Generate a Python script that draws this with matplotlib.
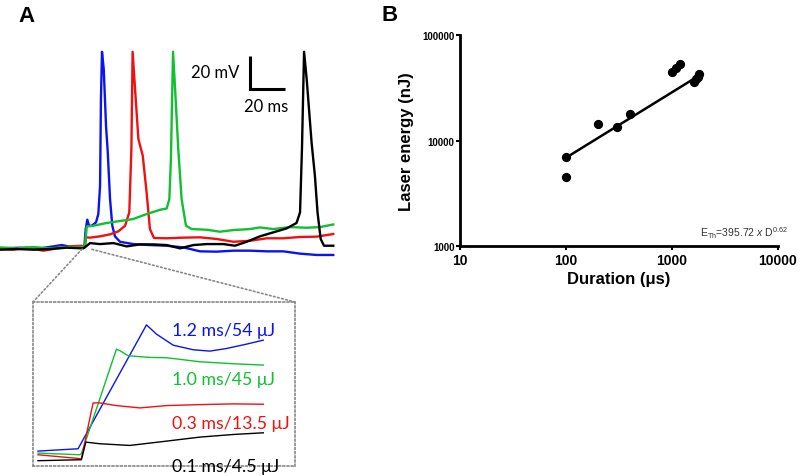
import numpy as np
import matplotlib

matplotlib.use("Agg")
import matplotlib.pyplot as plt
from matplotlib.patches import ConnectionPatch

plt.rcParams["mathtext.fontset"] = "custom"
plt.rcParams["mathtext.rm"] = "Liberation Sans"
plt.rcParams["mathtext.it"] = "Liberation Sans:italic"

# ---- panel A: membrane potential traces (time in ms, voltage in mV rel. baseline)
blue_t = [-48.6, -37.1, -25.7, -18.1, -13.3, -9.5, -4.8, -0.4, 0.4, 1.3, 2.3, 3.8, 6.3, 7.6, 8.6, 9.1,
          9.7, 10.7, 12.0, 13.0, 14.3, 15.6, 17.1, 20.0, 27.6, 37.1, 46.7, 56.2, 65.7, 75.2, 84.8,
          94.3, 103.8, 113.3, 122.9, 132.4, 141.9]
blue_v = [0, 0.4, 0, 1.2, 2.0, 1.2, 0.6, 0.6, 11.7, 17.4, 13.7, 13.7, 15.8, 20.8, 38.0, 90.5,
          119.2, 108.7, 74.3, 58.2, 29.9, 13.7, 7.3, 4.0, 2.6, 2.0, 1.6, 0.6, -1.8, -2.0, -1.4,
          -1.4, -1.8, -1.8, -3.2, -4.0, -4.0]

red_t = [-48.6, -41.0, -33.3, -23.8, -16.2, -8.6, -1.9, -0.2, 0.6, 2.9, 8.6, 14.3, 19.0, 22.9, 25.3,
         26.5, 27.2, 28.6, 30.5, 33.0, 35.2, 37.1, 39.4, 46.7, 56.2, 65.7, 75.2, 84.8, 94.3, 103.8,
         113.3, 122.9, 132.4, 141.9]
red_v = [-0.4, -0.8, 0.4, -1.4, 0, 1.2, 1.6, 0.6, 6.7, 6.5, 7.3, 8.5, 10.3, 13.7, 21.8,
         60.2, 119.2, 96.6, 66.3, 56.2, 33.9, 11.7, 6.3, 6.1, 6.5, 6.7, 5.7, 4.0, 4.6, 6.1,
         6.1, 6.9, 7.1, 8.7]

green_t = [-48.6, -39.1, -29.5, -20.0, -10.5, -2.9, 0, 1.0, 4.8, 12.4, 20.0, 27.6, 35.2, 42.9, 46.7,
           48.2, 49.1, 50.3, 51.6, 53.3, 55.2, 57.7, 61.0, 69.5, 77.1, 84.8, 94.3, 99.9, 107.6,
           117.2, 126.7, 134.3, 141.9]
green_v = [0.6, 0, 0.8, 0, 0.8, 0.8, 1.2, 13.3, 13.7, 15.4, 16.6, 17.8, 20.8, 23.4, 24.2,
           29.9, 54.1, 119.2, 94.5, 60.2, 29.9, 13.7, 11.7, 11.3, 10.1, 11.1, 11.7, 12.7, 11.7,
           12.9, 12.5, 12.9, 14.5]

black_t = [-48.6, -39.1, -29.5, -20.0, -10.5, -1.0, 0.6, 2.9, 8.6, 16.2, 23.8, 31.4, 39.1, 46.7, 54.3,
           61.9, 69.5, 79.1, 85.7, 92.4, 100.0, 107.6, 115.2, 120.9, 122.9, 124.0, 125.2, 126.7,
           129.5, 131.4, 132.9, 134.7, 136.6, 141.9]
black_v = [-0.8, -0.4, -0.8, -0.4, 0.4, 0, 1.2, 3.2, 2.6, 3.2, 1.2, 2.4, 2.4, 2.0, 0,
           2.0, 2.6, 2.6, 1.6, 4.0, 7.3, 9.7, 12.1, 15.4, 21.8, 60.2, 119.2, 102.6,
           64.2, 44.0, 21.8, 5.7, 1.6, 1.6]

# ---- inset: first ms after laser onset
in_blue_t = [-0.78, -0.06, 1.17, 1.35, 1.65, 2.01, 2.31, 2.61, 2.97, 3.27]
in_blue_v = [1.08, 1.41, 18.94, 17.63, 16.07, 15.42, 15.23, 15.60, 16.22, 16.78]
in_green_t = [-0.78, -0.03, 0.0, 0.63, 0.69, 0.84, 1.23, 1.53, 1.83, 2.13, 2.73, 3.27]
in_green_v = [0.80, 0.56, 0.70, 15.51, 15.30, 14.57, 14.34, 14.29, 14.01, 13.72, 13.44, 13.25]
in_red_t = [-0.78, 0.0, 0.21, 0.33, 0.63, 1.05, 1.53, 2.13, 2.73, 3.27]
in_red_v = [0.56, 0.0, 7.90, 7.90, 7.52, 7.19, 7.52, 7.66, 7.76, 7.71]
in_black_t = [-0.78, 0.0, 0.08, 0.33, 0.87, 1.53, 2.13, 2.73, 3.27]
in_black_v = [-0.28, -0.14, 2.35, 2.12, 1.88, 2.49, 3.06, 3.43, 3.67]
in_labels = ["1.2 ms/54 \u03bcJ", "1.0 ms/45 \u03bcJ", "0.3 ms/13.5 \u03bcJ", "0.1 ms/4.5 \u03bcJ"]

# ---- panel B: threshold energy vs pulse duration
duration_us = [100, 100, 200, 300, 400, 1000, 1100, 1200, 1600, 1700, 1750, 1800]
energy_nj = [7000, 4500, 14200, 13500, 17800, 45000, 48500, 53000, 36000, 38000, 40000, 42500]
fit_coef = 395.72
fit_exp = 0.62
fit_range = [100, 1800]

BLUE, RED, GREEN, BLACK = "#0a14f0", "#f01010", "#10c030", "#000000"

fig = plt.figure(figsize=(8, 4.77), dpi=100)

axA = fig.add_axes([0.0, 0.434, 0.419, 0.482])
for t, v, c in [(blue_t, blue_v, BLUE), (red_t, red_v, RED),
                (green_t, green_v, GREEN), (black_t, black_v, BLACK)]:
    axA.plot(t, v, color=c, lw=1.7, solid_joinstyle="round")
axA.set_xlim(-48.6, 143)
axA.set_ylim(-12.5, 126.9)
axA.axis("off")

# scale bar 20 mV / 20 ms
axA.plot([94.3, 94.3, 114.3], [116.6, 96.6, 96.6], color="black", lw=2.2,
         solid_joinstyle="miter", solid_capstyle="butt")
axA.text(88.0, 106.9, "20 mV", ha="right", va="center", fontsize=12, family="Lato")
axA.text(103.5, 86.3, "20 ms", ha="center", va="center", fontsize=12, family="Lato")

axIn = fig.add_axes([33 / 800, 10 / 477, 262 / 800, 164 / 477])
for t, v, c in [(in_blue_t, in_blue_v, BLUE), (in_green_t, in_green_v, GREEN),
                (in_red_t, in_red_v, RED), (in_black_t, in_black_v, BLACK)]:
    axIn.plot(t, v, color=c, lw=1.0)
axIn.set_xlim(-0.87, 3.84)
axIn.set_ylim(-1.03, 22.18)
axIn.set_xticks([])
axIn.set_yticks([])
for sp in axIn.spines.values():
    sp.set_linestyle((0, (1, 1.5)))
    sp.set_color("#888888")
    sp.set_linewidth(1.2)
for lab, y, c in zip(in_labels, [18.24, 11.28, 5.03, -1.03], [BLUE, GREEN, RED, BLACK]):
    axIn.text(1.62, y, lab, color=c, fontsize=12.8, family="Lato", va="center", ha="left")

for xy_main, xy_in in [((-1.7, -0.4), (0, 1)), ((4.0, -0.6), (1, 1))]:
    con = ConnectionPatch(xyA=xy_main, coordsA=axA.transData, xyB=xy_in, coordsB=axIn.transAxes,
                          color="#888888", lw=1.2, linestyle=(0, (1, 1.5)))
    fig.add_artist(con)

fig.text(0.023, 0.965, "A", fontsize=16, fontweight="bold", family="Liberation Sans", va="center")
fig.text(0.477, 0.968, "B", fontsize=16, fontweight="bold", family="Liberation Sans", va="center")

# ---- panel B axes
axB = fig.add_axes([0.575, 0.482, 0.3975, 0.4425])
axB.scatter(duration_us, energy_nj, s=32, color="black", zorder=3)
fit_x = np.array(fit_range, dtype=float)
axB.plot(fit_x, fit_coef * fit_x ** fit_exp, color="black", lw=1.8)
axB.set_xscale("log")
axB.set_yscale("log")
axB.set_xlim(10, 10000)
axB.set_ylim(1000, 100000)
axB.set_xticks([10, 100, 1000, 10000])
axB.set_xticklabels(["10", "100", "1000", "10000"])
axB.set_yticks([1000, 10000, 100000])
axB.set_yticklabels(["1000", "10000", "100000"])
axB.minorticks_off()
for sp in ["top", "right"]:
    axB.spines[sp].set_visible(False)
for sp in ["left", "bottom"]:
    axB.spines[sp].set_linewidth(2)
axB.tick_params(axis="x", length=3, width=1.5, labelsize=10, pad=2)
axB.tick_params(axis="y", length=3, width=1.5, labelsize=7, pad=1)
for lab in axB.get_xticklabels() + axB.get_yticklabels():
    lab.set_fontweight("bold")
    lab.set_family("Liberation Sans")
axB.set_xlabel("Duration (\u03bcs)", fontsize=12, fontweight="bold", family="Liberation Sans", labelpad=3)
axB.set_ylabel("Laser energy (nJ)", fontsize=12, fontweight="bold", family="Liberation Sans", labelpad=6)
axB.text(1.03, 0.066, r"E$_{\mathrm{Th}}$=395.72 $x$ D$^{0.62}$", transform=axB.transAxes,
         ha="right", va="center", fontsize=7.5, color="#333333", family="Liberation Sans")

fig.savefig("out.png", dpi=100)
plt.close(fig)
